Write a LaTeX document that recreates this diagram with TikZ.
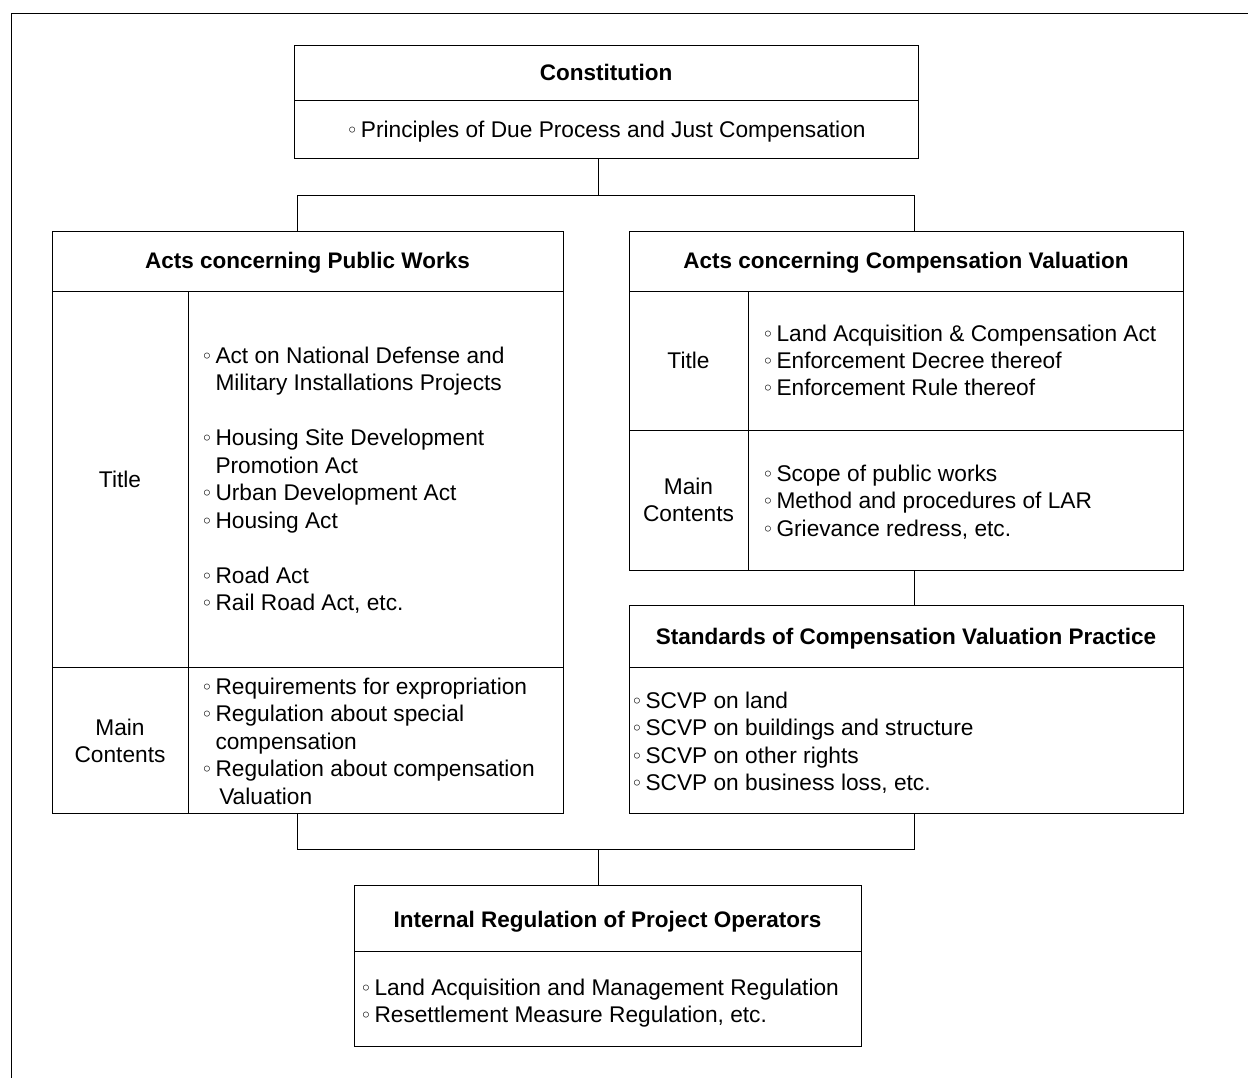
\documentclass[tikz,border=0pt]{standalone}
\usepackage{fontspec}
\setmainfont{Liberation Sans}
\newfontfamily\bulfont{DejaVu Sans}
\usetikzlibrary{calc}
\newcommand\blt{\makebox[12.5pt][l]{\hspace*{-2pt}{\bulfont\fontsize{20}{20}\selectfont\char"25E6}}}
\newcommand\ind{\hphantom{\blt}}
\newcommand\lst[1]{\begin{tabular}[t]{@{}l@{}}#1\end{tabular}}
\newcommand\clst[1]{\begin{tabular}[t]{@{}c@{}}#1\end{tabular}}
\tikzset{
  cell/.style={draw, line width=1pt, inner sep=0pt, outer sep=0pt, anchor=north west},
  txt/.style={inner sep=0pt, outer sep=0pt, font=\fontsize{22.7}{27.5}\selectfont},
  hd/.style={inner sep=0pt, outer sep=0pt, anchor=base, font=\fontsize{22.5}{27.5}\selectfont\bfseries},
  link/.style={line width=1pt},
}
\begin{document}
\begin{tikzpicture}[x=1pt,y=-1pt]
\useasboundingbox (0,0) rectangle (1248,1078);
% outer frame (top and left only)
\draw[line width=1.2pt] (11.5,1078) -- (11.5,13.5) -- (1248,13.5);

% Constitution
\node[cell, minimum width=624pt, minimum height=54.5pt] (constH) at (294,46) {};
\node[cell, minimum width=624pt, minimum height=58.5pt] (constB) at (294,100.5) {};
% Acts concerning Public Works
\node[cell, minimum width=511pt, minimum height=59pt] (pwH) at (52,232) {};
\node[cell, minimum width=136pt, minimum height=376pt] (pwT1) at (52,291) {};
\node[cell, minimum width=375pt, minimum height=376pt] (pwT2) at (188,291) {};
\node[cell, minimum width=136pt, minimum height=146pt] (pwM1) at (52,667) {};
\node[cell, minimum width=375pt, minimum height=146pt] (pwM2) at (188,667) {};
% Acts concerning Compensation Valuation
\node[cell, minimum width=554pt, minimum height=59pt] (cvH) at (629,232) {};
\node[cell, minimum width=119pt, minimum height=139pt] (cvT1) at (629,291) {};
\node[cell, minimum width=435pt, minimum height=139pt] (cvT2) at (748,291) {};
\node[cell, minimum width=119pt, minimum height=140pt] (cvM1) at (629,430) {};
\node[cell, minimum width=435pt, minimum height=140pt] (cvM2) at (748,430) {};
% Standards
\node[cell, minimum width=554pt, minimum height=62pt] (sH) at (629,605) {};
\node[cell, minimum width=554pt, minimum height=146pt] (sB) at (629,667) {};
% Internal regulation
\node[cell, minimum width=507pt, minimum height=66pt] (iH) at (354,885) {};
\node[cell, minimum width=507pt, minimum height=95pt] (iB) at (354,951) {};

% texts
\node[hd] (tConst) at (606,81) {Constitution};
\node[txt, anchor=base] (tPrin) at (607,138) {\blt Principles of Due Process and Just Compensation};
\node[hd] (tPW) at (307.5,269) {Acts concerning Public Works};
\node[hd] (tCV) at (906,269) {Acts concerning Compensation Valuation};
\node[txt, anchor=base] (tT1) at (120,487) {Title};
\node[txt, anchor=base west] (lT1) at (203,363) {\lst{\blt Act on National Defense and\\ \ind Military Installations Projects\\ \\ \blt Housing Site Development\\ \ind Promotion Act\\ \blt Urban Development Act\\ \blt Housing Act\\ \\ \blt Road Act\\ \blt Rail Road Act, etc.}};
\node[txt, anchor=base] (tM1) at (120,735) {\clst{Main\\ Contents}};
\node[txt, anchor=base west] (lM1) at (203,694) {\lst{\blt Requirements for expropriation\\ \blt Regulation about special\\ \ind compensation\\ \blt Regulation about compensation\\ \ind\,Valuation}};
\node[txt, anchor=base] (tT2) at (688.5,368) {Title};
\node[txt, anchor=base west] (lT2) at (764,341) {\lst{\blt Land Acquisition \& Compensation Act\\ \blt Enforcement Decree thereof\\ \blt Enforcement Rule thereof}};
\node[txt, anchor=base] (tM2) at (688.5,494) {\clst{Main\\ Contents}};
\node[txt, anchor=base west] (lM2) at (764,481) {\lst{\blt Scope of public works\\ \blt Method and procedures of LAR\\ \blt Grievance redress, etc.}};
\node[hd] (tS) at (906,644) {Standards of Compensation Valuation Practice};
\node[txt, anchor=base west] (lS) at (633,708) {\lst{\blt SCVP on land\\ \blt SCVP on buildings and structure\\ \blt SCVP on other rights\\ \blt SCVP on business loss, etc.}};
\node[hd] (tI) at (607.5,927) {Internal Regulation of Project Operators};
\node[txt, anchor=base west] (lI) at (362,995) {\lst{\blt Land Acquisition and Management Regulation\\ \blt Resettlement Measure Regulation, etc.}};

% connectors
\coordinate (cA) at ($(constB.south west)!0.4883!(constB.south east)$);
\coordinate (pA) at ($(pwH.north west)!0.4808!(pwH.north east)$);
\coordinate (vA) at ($(cvH.north west)!0.5157!(cvH.north east)$);
\draw[link] (cA) -- ++(0,36.5) coordinate (j1);
\draw[link] (pA) |- (j1) -| (vA);
\coordinate (vB) at ($(cvM1.south west)!0.5157!(cvM2.south east |- cvM1.south west)$);
\coordinate (sA) at ($(sH.north west)!0.5157!(sH.north east)$);
\draw[link] (vB) -- (sA);
\coordinate (pB) at ($(pwM1.south west)!0.4808!(pwM2.south east)$);
\coordinate (sC) at ($(sB.south west)!0.5157!(sB.south east)$);
\draw[link] (pB) -- ++(0,36) coordinate (j2) -| (sC);
\coordinate (iA) at ($(iH.north west)!0.4826!(iH.north east)$);
\draw[link] (iA) -- (iA |- j2);
\end{tikzpicture}
\end{document}
